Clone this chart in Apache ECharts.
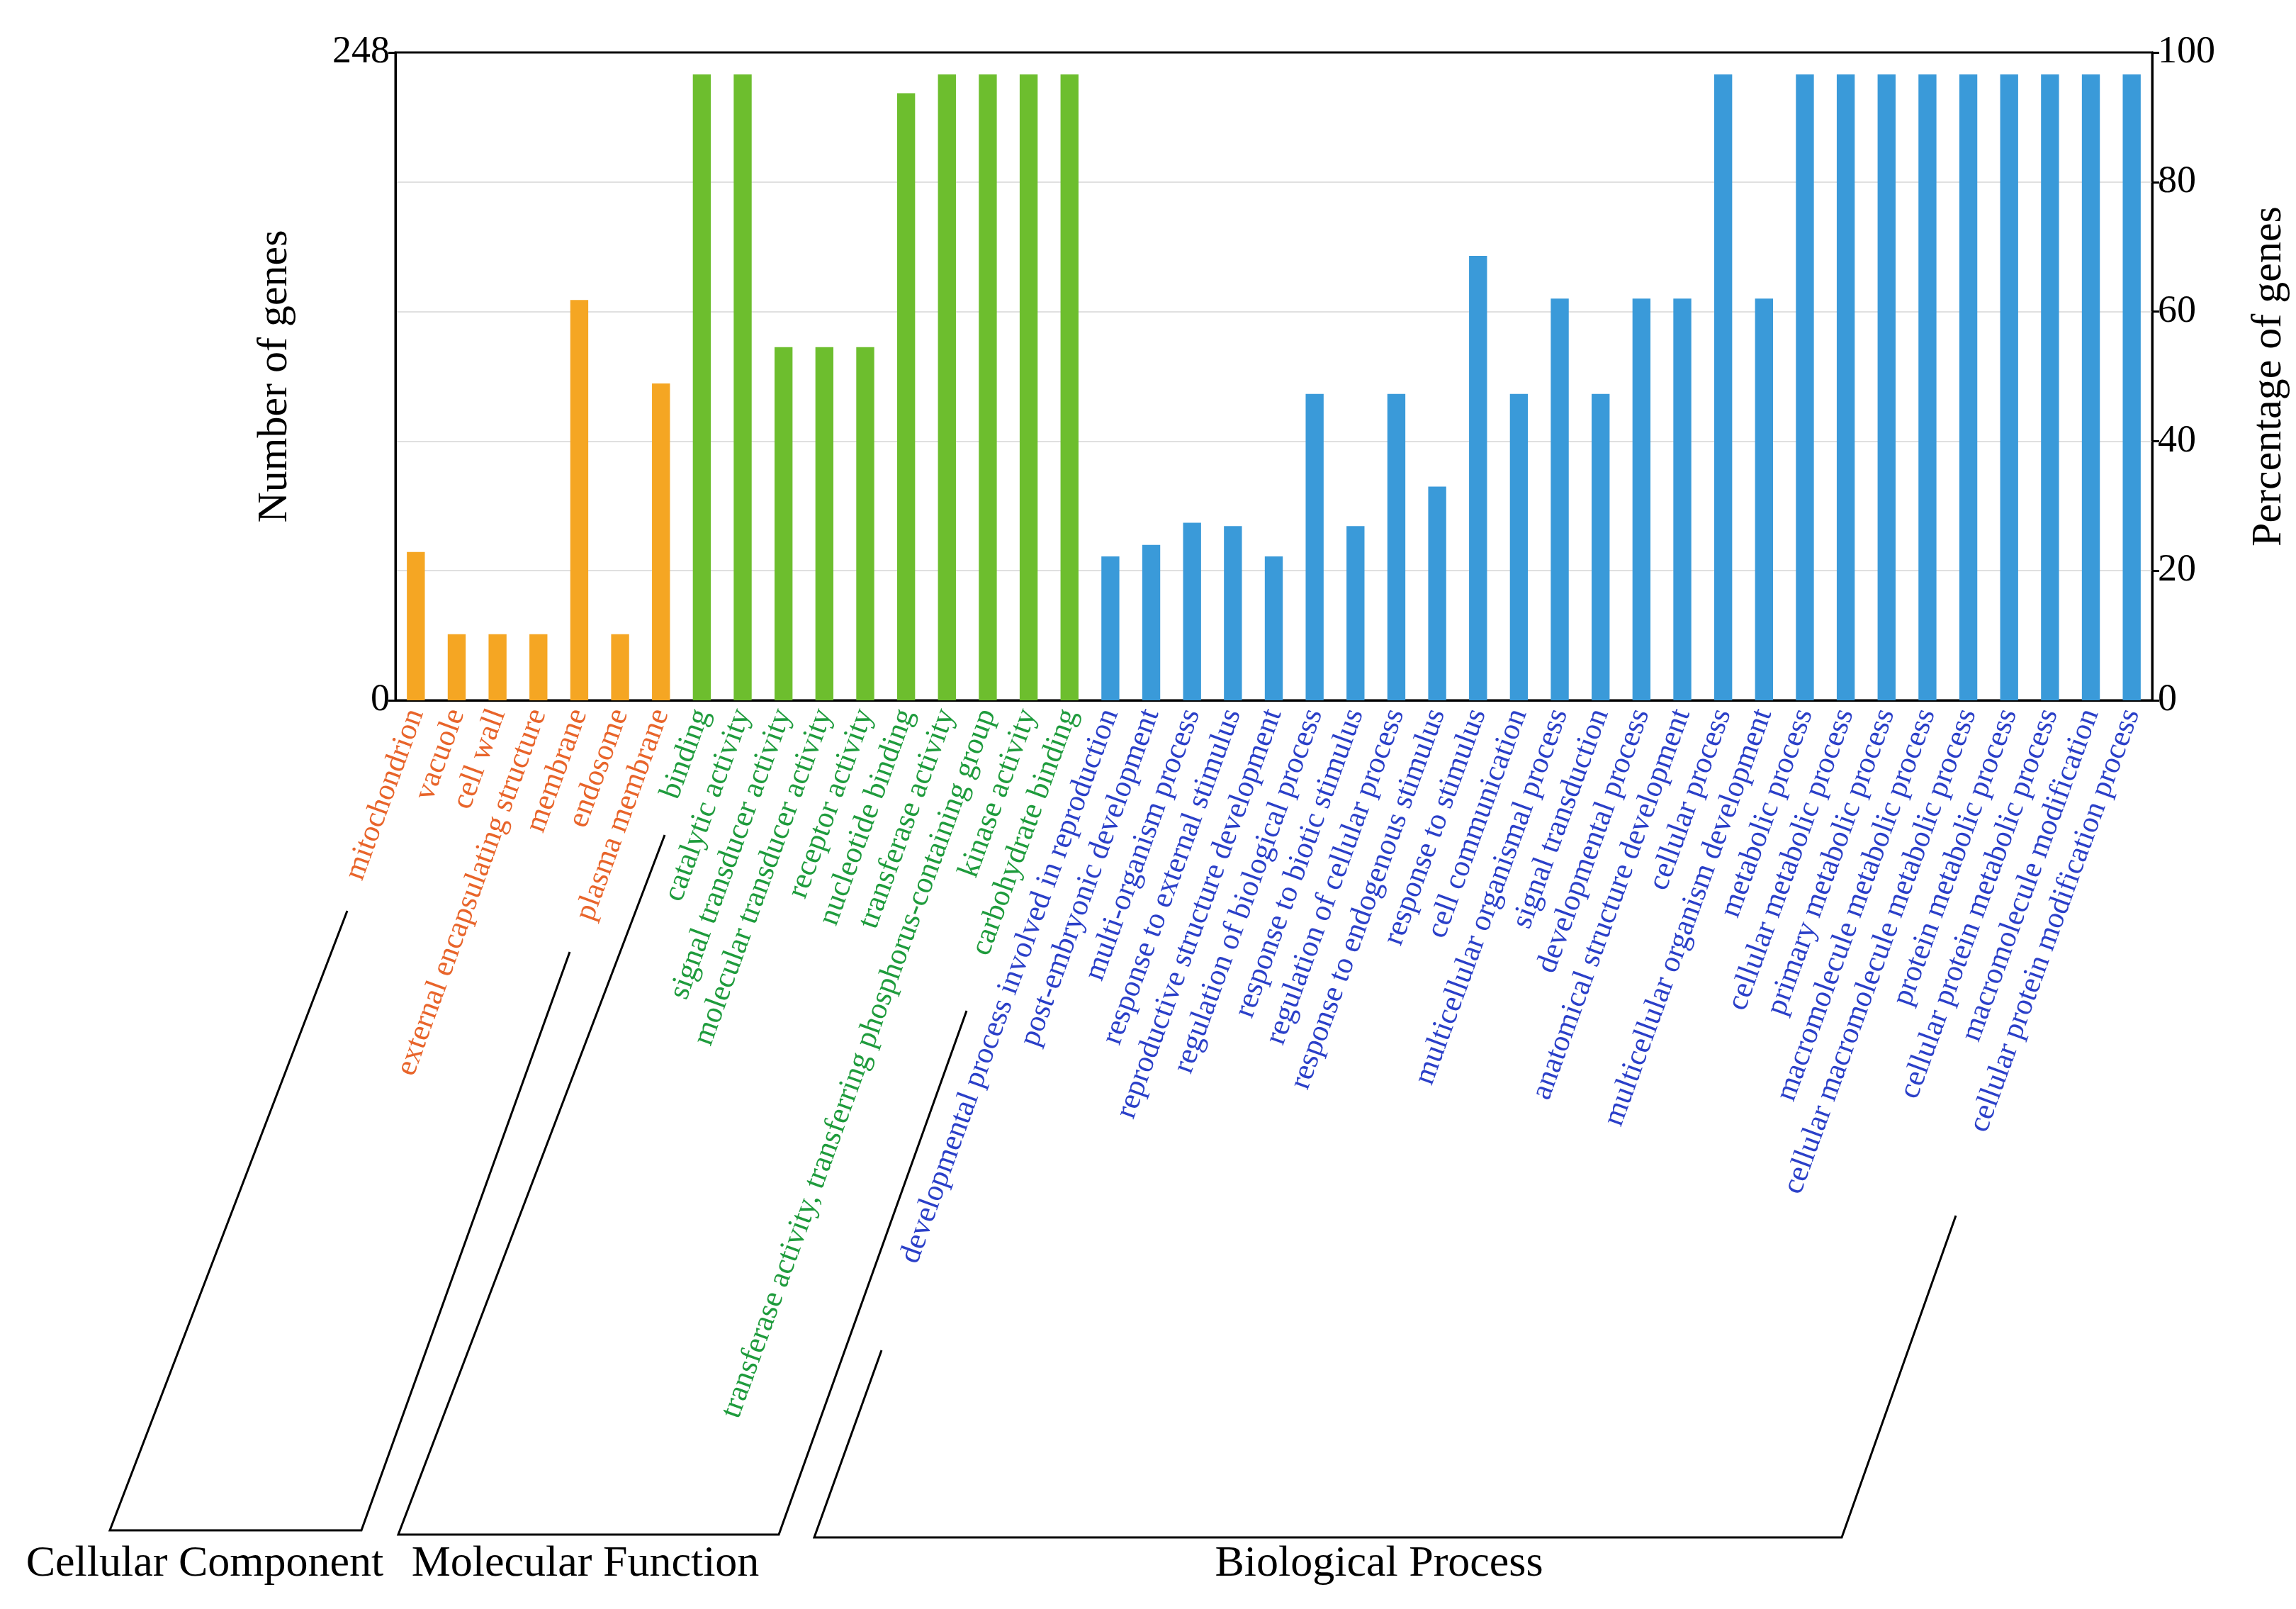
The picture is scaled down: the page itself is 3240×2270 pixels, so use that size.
<!DOCTYPE html>
<html lang="en">
<head>
<meta charset="UTF-8">
<title>GO annotation</title>
<script src="https://cdn.jsdelivr.net/npm/echarts@6/dist/echarts.min.js"></script>
<style>html,body{margin:0;padding:0;background:#fff}#chart{width:3240px;height:2270px}</style>
</head>
<body>
<div id="chart"></div>
<script>
// categories per GO group
var ccTerms = ['mitochondrion','vacuole','cell wall','external encapsulating structure','membrane','endosome','plasma membrane'];
var mfTerms = ['binding','catalytic activity','signal transducer activity','molecular transducer activity','receptor activity','nucleotide binding','transferase activity','transferase activity, transferring phosphorus-containing group','kinase activity','carbohydrate binding'];
var bpTerms = ['developmental process involved in reproduction','post-embryonic development','multi-organism process','response to external stimulus','reproductive structure development','regulation of biological process','response to biotic stimulus','regulation of cellular process','response to endogenous stimulus','response to stimulus','cell communication','multicellular organismal process','signal transduction','developmental process','anatomical structure development','cellular process','multicellular organism development','metabolic process','cellular metabolic process','primary metabolic process','macromolecule metabolic process','cellular macromolecule metabolic process','protein metabolic process','cellular protein metabolic process','macromolecule modification','cellular protein modification process'];

// percentage of genes
var ccPct = [22.9, 10.2, 10.2, 10.2, 61.8, 10.2, 48.9];
var mfPct = [96.6, 96.6, 54.5, 54.5, 54.5, 93.7, 96.6, 96.6, 96.6, 96.6];
var bpPct = [22.2, 24, 27.4, 26.9, 22.2, 47.3, 26.9, 47.3, 33, 68.6, 47.3, 62, 47.3, 62, 62, 96.6, 62, 96.6, 96.6, 96.6, 96.6, 96.6, 96.6, 96.6, 96.6, 96.6];

var barColors = ['#F5A623', '#6DBE2E', '#3A9AD9'];
var textColors = ['#E8642A', '#1E9B3C', '#2A3FC8'];
var groupNames = ['Cellular Component', 'Molecular Function', 'Biological Process'];

var cats = ccTerms.concat(mfTerms, bpTerms);
var groupOf = {};
ccTerms.forEach(function (t) { groupOf[t] = 0; });
mfTerms.forEach(function (t) { groupOf[t] = 1; });
bpTerms.forEach(function (t) { groupOf[t] = 2; });

var data = [];
[ccPct, mfPct, bpPct].forEach(function (arr, g) {
    arr.forEach(function (v) { data.push({value: v, itemStyle: {color: barColors[g]}}); });
});

var font = 'Liberation Serif';
var myChart = echarts.init(document.getElementById('chart'));

function bracket(pts) {
    return {type: 'polyline', shape: {points: pts}, style: {stroke: '#000', lineWidth: 3, fill: null}};
}
function groupText(x, name) {
    return {type: 'text', x: x, y: 2207, style: {text: name, font: '62px "Liberation Serif"', fill: '#000', align: 'center', verticalAlign: 'middle'}};
}

var option = {
    animation: false,
    grid: {left: 558, right: 203, top: 74, bottom: 1282, show: true, borderColor: '#000', borderWidth: 3, backgroundColor: 'transparent'},
    xAxis: [{
        type: 'category',
        data: cats,
        axisLine: {lineStyle: {color: '#000', width: 3}},
        axisTick: {show: false},
        axisLabel: {
            interval: 0, rotate: 70, fontFamily: font, fontSize: 43, margin: 14,
            color: function (v) { return textColors[groupOf[v]]; }
        }
    }],
    yAxis: [
        {
            type: 'value', min: 0, max: 248, interval: 248, name: 'Number of genes',
            nameLocation: 'middle', nameGap: 140, nameRotate: 90,
            nameTextStyle: {fontFamily: font, fontSize: 60, color: '#000'},
            axisLine: {show: true, lineStyle: {color: '#000', width: 3}},
            axisTick: {show: true, length: 10, lineStyle: {width: 3}},
            axisLabel: {fontFamily: font, fontSize: 54, color: '#000'},
            splitLine: {show: false}
        },
        {
            type: 'value', min: 0, max: 100, interval: 20, name: 'Percentage of genes',
            nameLocation: 'middle', nameGap: 135, nameRotate: 90,
            nameTextStyle: {fontFamily: font, fontSize: 60, color: '#000'},
            axisLine: {show: true, lineStyle: {color: '#000', width: 3}},
            axisTick: {show: true, length: 10, lineStyle: {width: 3}},
            axisLabel: {fontFamily: font, fontSize: 54, color: '#000'},
            splitLine: {show: true, showMinLine: false, showMaxLine: false, lineStyle: {color: '#e0e0e0', width: 2}}
        }
    ],
    series: [{type: 'bar', yAxisIndex: 1, data: data, barWidth: '44%'}],
    graphic: [
        bracket([[490, 1285], [155, 2159], [510, 2159], [804, 1343]]),
        bracket([[938, 1178], [562, 2165], [1099, 2165], [1364, 1426]]),
        bracket([[1244, 1905], [1149, 2169], [2599, 2169], [2760, 1715]]),
        groupText(289, groupNames[0]),
        groupText(826, groupNames[1]),
        groupText(1946, groupNames[2])
    ]
};
myChart.setOption(option);
</script>
</body>
</html>
